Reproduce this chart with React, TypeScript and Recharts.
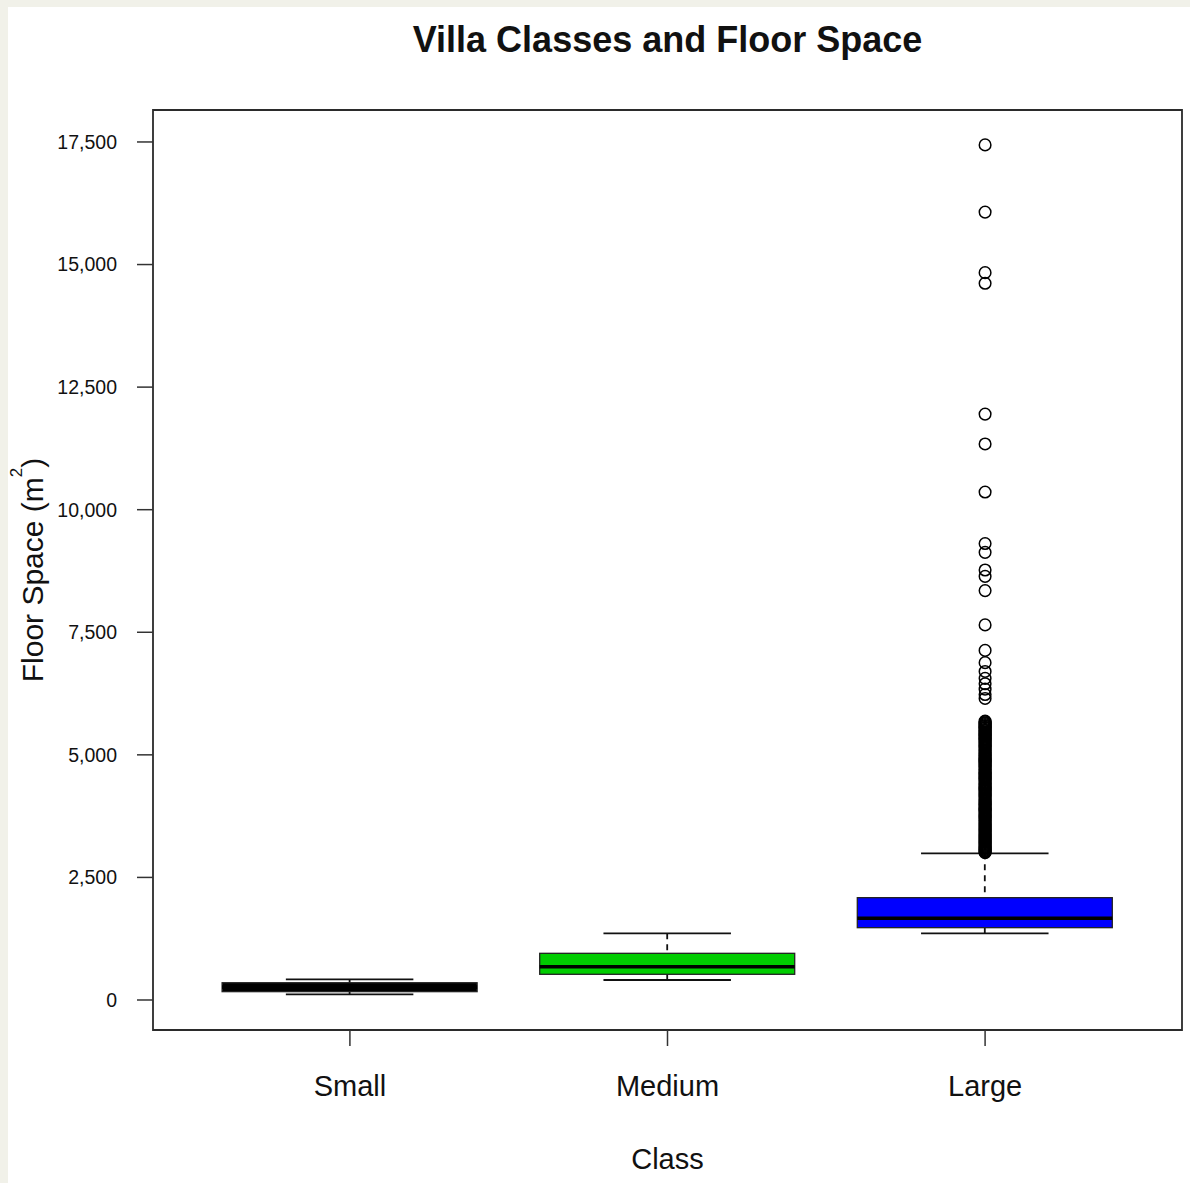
import { ComposedChart, Bar, Scatter, XAxis, YAxis, ReferenceArea, Label } from 'recharts'

const FONT = '"Liberation Sans", Arial, sans-serif'

// five-number summaries per villa class
const classes = ['Small', 'Medium', 'Large']
const classPositions = [1, 2, 3]
const whiskerLow = [116, 408, 1360]
const quartile1 = [170, 524, 1475]
const medians = [262, 679, 1666]
const quartile3 = [352, 952, 2087]
const whiskerHigh = [422, 1360, 2992]

// floor space of large villas beyond the upper whisker
const largeOutliers = [
  17440, 16070, 14835, 14618, 11950, 11340, 10360, 9310, 9130, 8770, 8640,
  8350, 7650, 7130, 6880, 6700, 6560, 6450, 6340, 6230, 6150,
  5690, 5672, 5655, 5640, 5618, 5600, 5583, 5560, 5545, 5522, 5500, 5488,
  5465, 5440, 5420, 5400, 5382, 5360, 5335, 5318, 5300, 5275, 5250, 5232,
  5210, 5190, 5170, 5150, 5125, 5100, 5085, 5060, 5040, 5020, 5000, 4980,
  4955, 4930, 4912, 4890, 4870, 4850, 4825, 4800, 4780, 4760, 4740, 4715,
  4695, 4670, 4650, 4630, 4605, 4585, 4560, 4540, 4520, 4500, 4478, 4455,
  4430, 4410, 4390, 4370, 4345, 4320, 4300, 4280, 4255, 4230, 4210, 4190,
  4170, 4150, 4125, 4100, 4080, 4060, 4040, 4020, 4000, 3980, 3955, 3930,
  3910, 3890, 3870, 3850, 3825, 3800, 3780, 3760, 3740, 3720, 3700, 3680,
  3655, 3630, 3610, 3590, 3570, 3550, 3530, 3510, 3490, 3470, 3450, 3430,
  3410, 3390, 3370, 3350, 3330, 3310, 3290, 3270, 3250, 3230, 3210, 3190,
  3170, 3150, 3130, 3110, 3090, 3070, 3050, 3035, 3020, 3005
]

const yTicks = [0, 2500, 5000, 7500, 10000, 12500, 15000, 17500]

const boxColors = ['#000000', '#00cd00', '#0000ff']

const X_DOMAIN = [0.38, 3.62]
const Y_DOMAIN = [-612, 18152]

const boxes = classes.map((name, i) => ({
  name,
  x: classPositions[i],
  lo: whiskerLow[i],
  q1: quartile1[i],
  med: medians[i],
  q3: quartile3[i],
  hi: whiskerHigh[i],
  fill: boxColors[i]
}))

const outlierPoints = largeOutliers.map((v) => ({ x: 3, value: v }))

// the bar spans the whiskers; everything inside is placed along that span
function BoxShape(props: any) {
  const { x, y, width, height, payload } = props
  const top = Math.min(y, y + height)
  const bottom = Math.max(y, y + height)
  const { lo, hi, q1, q3, med, fill } = payload
  const toY = (v: number) => top + ((hi - v) / (hi - lo)) * (bottom - top)
  const cx = x + width / 2
  const cap = width / 4
  return (
    <g>
      <line x1={cx} x2={cx} y1={toY(hi)} y2={toY(q3)} stroke="#111" strokeWidth={1.8} strokeDasharray="6 5" />
      <line x1={cx} x2={cx} y1={toY(q1)} y2={toY(lo)} stroke="#111" strokeWidth={1.8} strokeDasharray="6 5" />
      <line x1={cx - cap} x2={cx + cap} y1={toY(hi)} y2={toY(hi)} stroke="#111" strokeWidth={1.8} />
      <line x1={cx - cap} x2={cx + cap} y1={toY(lo)} y2={toY(lo)} stroke="#111" strokeWidth={1.8} />
      <rect x={x} y={toY(q3)} width={width} height={toY(q1) - toY(q3)} fill={fill} stroke="#222" strokeWidth={1.3} />
      <line x1={x} x2={x + width} y1={toY(med)} y2={toY(med)} stroke="#000" strokeWidth={3.6} />
    </g>
  )
}

const Ring = (p: any) => (
  <circle cx={p.cx} cy={p.cy} r={5.8} fill="none" stroke="#000" strokeWidth={1.5} />
)

function FloorSpaceTitle(props: any) {
  const vb = props.viewBox
  const cx = vb.x + 35
  const cy = vb.y + vb.height / 2
  return (
    <text
      transform={`translate(${cx}, ${cy}) rotate(-90)`}
      textAnchor="middle"
      fontSize={30}
      fill="#111"
      fontFamily={FONT}
    >
      Floor Space (m
      <tspan dy={-21} fontSize={17}>2</tspan>
      <tspan dy={21}>)</tspan>
    </text>
  )
}

export default function App() {
  return (
    <div
      style={{
        position: 'absolute',
        left: 0,
        top: 0,
        width: 1190,
        height: 1183,
        background: '#f1f1e9'
      }}
    >
      <div
        style={{
          position: 'absolute',
          left: 8,
          top: 7,
          width: 1182,
          height: 1176,
          background: '#fff'
        }}
      >
        <div
          style={{
            position: 'absolute',
            left: 145,
            top: 14.5,
            width: 1029,
            textAlign: 'center',
            fontFamily: FONT,
            fontWeight: 'bold',
            fontSize: 36,
            lineHeight: '36px',
            color: '#111'
          }}
        >
          Villa Classes and Floor Space
        </div>
        <ComposedChart
          width={1182}
          height={1176}
          data={boxes}
          margin={{ top: 103, right: 8, bottom: 3, left: 0 }}
        >
          <XAxis
            type="number"
            dataKey="x"
            domain={X_DOMAIN}
            allowDataOverflow
            ticks={classPositions}
            interval={0}
            tickFormatter={(v: number) => classes[v - 1]}
            height={150}
            tickSize={16}
            tickMargin={29}
            axisLine={false}
            tickLine={{ stroke: '#333', strokeWidth: 1.5 }}
            tick={{ fontSize: 29, fill: '#111', fontFamily: FONT }}
          >
            <Label value="Class" position="insideBottom" offset={11} fontSize={29} fill="#111" fontFamily={FONT} />
          </XAxis>
          <YAxis
            type="number"
            domain={Y_DOMAIN}
            allowDataOverflow
            ticks={yTicks}
            interval={0}
            tickFormatter={(v: number) => v.toLocaleString('en-US')}
            width={145}
            tickSize={16}
            tickMargin={20}
            axisLine={false}
            tickLine={{ stroke: '#333', strokeWidth: 1.5 }}
            tick={{ fontSize: 19.5, fill: '#111', fontFamily: FONT }}
          >
            <Label content={FloorSpaceTitle} />
          </YAxis>
          <ReferenceArea
            x1={X_DOMAIN[0]}
            x2={X_DOMAIN[1]}
            y1={Y_DOMAIN[0]}
            y2={Y_DOMAIN[1]}
            fill="none"
            stroke="#2b2b2b"
            strokeWidth={1.8}
            ifOverflow="visible"
          />
          <Bar
            dataKey={(d: any) => [d.lo, d.hi]}
            barSize={255}
            shape={BoxShape}
            isAnimationActive={false}
          />
          <Scatter
            data={outlierPoints}
            dataKey="value"
            shape={Ring}
            isAnimationActive={false}
          />
        </ComposedChart>
      </div>
    </div>
  )
}
